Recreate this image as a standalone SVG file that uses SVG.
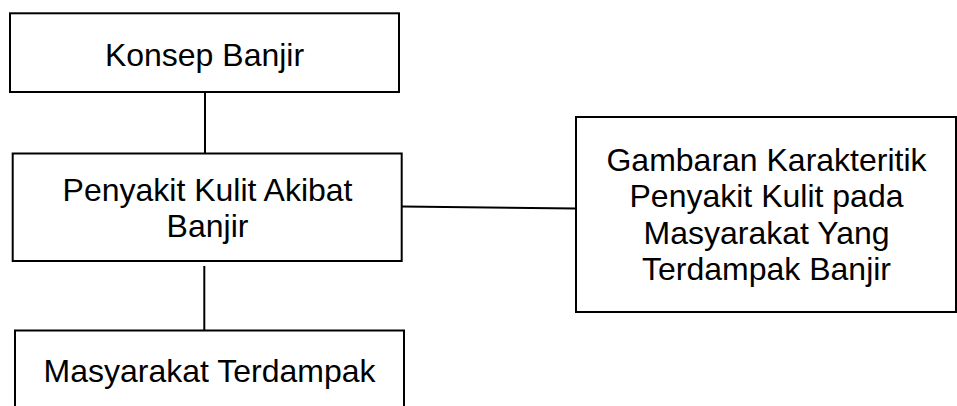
<svg xmlns="http://www.w3.org/2000/svg" width="957" height="406" viewBox="0 0 957 406">
  <style>
    .box { fill: #ffffff; stroke: #000000; stroke-width: 2; }
    .link { stroke: #000000; stroke-width: 2; fill: none; }
    .label { font-family: "Liberation Sans", Arial, sans-serif; font-size: 32px; fill: #000000; text-anchor: middle; }
  </style>
  <rect width="957" height="406" fill="#ffffff"/>

  <g id="connectors">
    <line class="link" x1="205" y1="92" x2="205" y2="153.5"/>
    <line class="link" x1="204.3" y1="266" x2="204.3" y2="330.5"/>
    <line class="link" x1="402" y1="206.5" x2="576" y2="208.5"/>
  </g>

  <g id="konsep-banjir">
    <rect class="box" x="10" y="13.3" width="389" height="78.7"/>
    <text class="label" x="204.5" y="65.5">Konsep Banjir</text>
  </g>

  <g id="penyakit-kulit">
    <rect class="box" x="12.7" y="153.5" width="389" height="107.5"/>
    <text class="label" x="207.5" y="200.7">Penyakit Kulit Akibat</text>
    <text class="label" x="207.5" y="237.2">Banjir</text>
  </g>

  <g id="masyarakat-terdampak">
    <rect class="box" x="15" y="330.5" width="389" height="100"/>
    <text class="label" x="209.5" y="381.5">Masyarakat Terdampak</text>
  </g>

  <g id="gambaran-karakteristik">
    <rect class="box" x="576" y="117" width="380" height="195"/>
    <text class="label" x="766.5" y="170.7">Gambaran Karakteritik</text>
    <text class="label" x="766.5" y="207.2">Penyakit Kulit pada</text>
    <text class="label" x="766.5" y="243.7">Masyarakat Yang</text>
    <text class="label" x="766.5" y="280.2">Terdampak Banjir</text>
  </g>
</svg>
